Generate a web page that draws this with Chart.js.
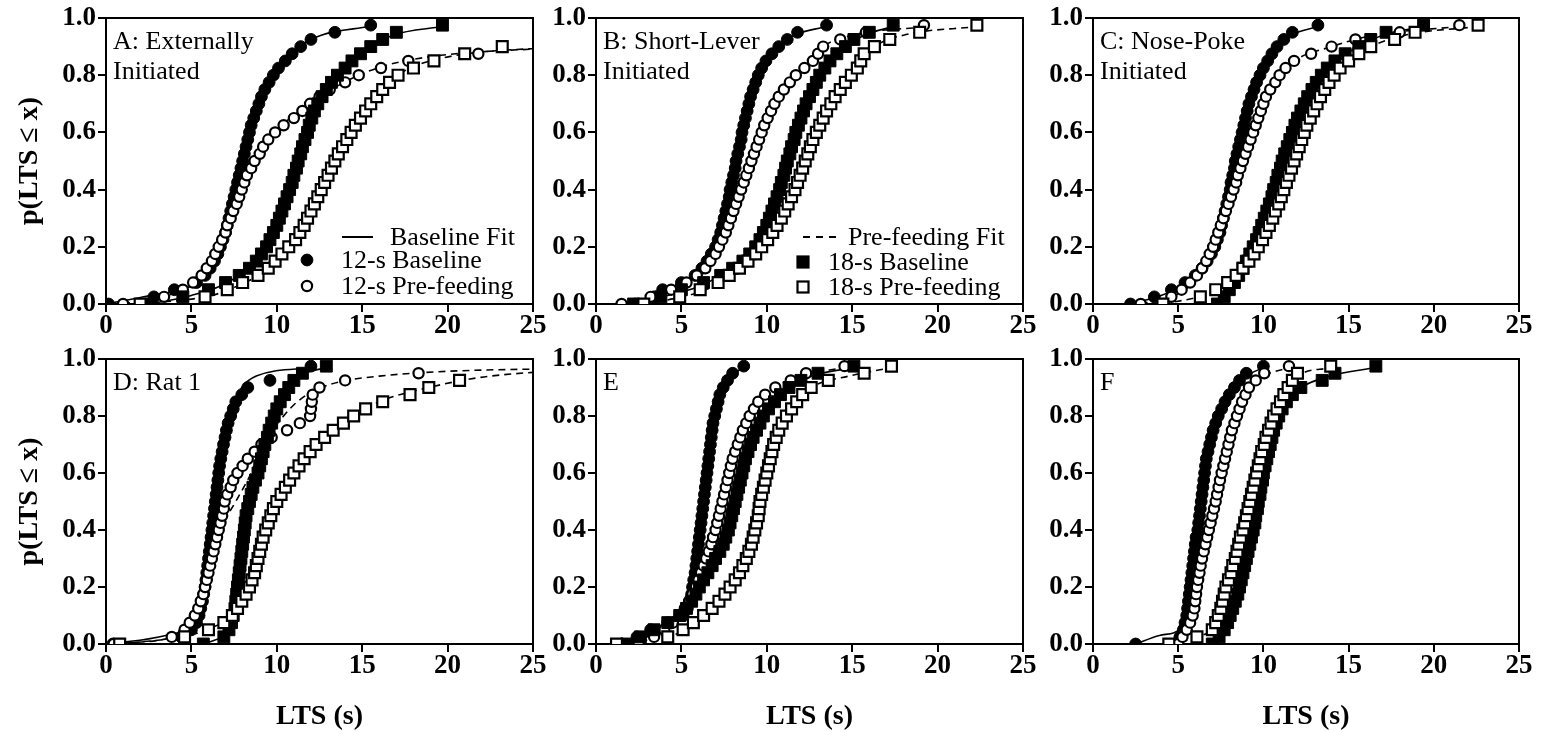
<!DOCTYPE html>
<html>
<head>
<meta charset="utf-8">
<script src="https://cdn.jsdelivr.net/npm/chart.js@4.4.1/dist/chart.umd.min.js"></script>
<style>
html, body { margin: 0; padding: 0; background: #fff; }
body { width: 1541px; height: 732px; position: relative; overflow: hidden; }
canvas { position: absolute; }
</style>
</head>
<body>
<canvas id="panelA"></canvas>
<canvas id="panelB"></canvas>
<canvas id="panelC"></canvas>
<canvas id="panelD"></canvas>
<canvas id="panelE"></canvas>
<canvas id="panelF"></canvas>
<script>
// cumulative probability of each ranked latency (40 trials per condition)
const P = [0, 0.025, 0.05, 0.075, 0.1, 0.125, 0.15, 0.175, 0.2, 0.225, 0.25, 0.275, 0.3, 0.325, 0.35, 0.375,
  0.4, 0.425, 0.45, 0.475, 0.5, 0.525, 0.55, 0.575, 0.6, 0.625, 0.65, 0.675, 0.7, 0.725, 0.75, 0.775,
  0.8, 0.825, 0.85, 0.875, 0.9, 0.925, 0.95, 0.975]
// probability levels the fitted curves are sampled at
const FP = [0, 0.03, 0.06, 0.1, 0.15, 0.2, 0.3, 0.4, 0.5, 0.6, 0.7, 0.8, 0.85, 0.9, 0.94, 0.97]

// A: externally initiated
const a12Base = [0.15, 2.8, 4.0, 5.3, 5.8, 6.1, 6.35, 6.55, 6.7, 6.85, 7.0, 7.1, 7.2, 7.3, 7.4, 7.5, 7.6, 7.7, 7.8, 7.9, 8.0, 8.1, 8.2, 8.3, 8.4, 8.5, 8.65, 8.8, 8.95, 9.1, 9.3, 9.55, 9.8, 10.1, 10.5, 10.9, 11.4, 12.0, 13.4, 15.5]
const a12Pre = [1.0, 3.4, 4.5, 5.1, 5.6, 5.9, 6.2, 6.4, 6.6, 6.8, 7.0, 7.1, 7.3, 7.45, 7.65, 7.8, 7.95, 8.1, 8.25, 8.5, 8.7, 9.0, 9.2, 9.5, 9.9, 10.4, 11.0, 11.5, 11.95, 12.5, 13.1, 14.0, 14.8, 16.1, 17.7, 21.8]
const a18Base = [2.6, 4.5, 6.0, 7.0, 7.8, 8.4, 8.8, 9.1, 9.4, 9.6, 9.8, 10.0, 10.15, 10.3, 10.45, 10.6, 10.75, 10.9, 11.0, 11.15, 11.25, 11.4, 11.5, 11.65, 11.8, 11.9, 12.05, 12.2, 12.4, 12.65, 12.9, 13.2, 13.55, 14.0, 14.4, 14.9, 15.5, 16.2, 17.0, 19.7]
const a18Pre = [2.0, 5.8, 7.1, 8.0, 8.9, 9.5, 9.9, 10.3, 10.7, 11.1, 11.35, 11.6, 11.8, 12.0, 12.2, 12.4, 12.6, 12.8, 13.0, 13.2, 13.4, 13.6, 13.85, 14.1, 14.35, 14.6, 14.9, 15.2, 15.5, 15.85, 16.2, 16.6, 17.1, 18.0, 19.2, 21.0, 23.2]
const aFit12Base = [0, 2.6, 4.9, 5.8, 6.35, 6.7, 7.2, 7.6, 8.0, 8.4, 8.95, 9.8, 10.4, 11.3, 12.6, 15.4]
const aFit12Pre = [1.0, 3.6, 4.8, 5.6, 6.2, 6.6, 7.3, 7.95, 8.7, 9.9, 11.9, 14.8, 17.5, 28, 40]
const aFit18Base = [2.6, 5.0, 6.6, 7.8, 8.8, 9.35, 10.15, 10.75, 11.25, 11.8, 12.4, 13.55, 14.4, 15.5, 16.8, 19.7]
const aFit18Pre = [2.0, 6.2, 7.6, 8.9, 9.9, 10.7, 11.8, 12.6, 13.4, 14.35, 15.5, 17.1, 19.0, 27, 38]

// B: short-lever initiated
const b12Base = [2.3, 3.4, 3.9, 5.0, 5.8, 6.2, 6.5, 6.75, 7.0, 7.15, 7.3, 7.4, 7.5, 7.6, 7.7, 7.8, 7.85, 7.95, 8.05, 8.15, 8.2, 8.3, 8.4, 8.5, 8.55, 8.65, 8.75, 8.85, 8.95, 9.05, 9.2, 9.35, 9.5, 9.7, 9.95, 10.3, 10.7, 11.2, 11.8, 13.5]
const b12Pre = [1.5, 3.2, 4.4, 5.3, 5.9, 6.4, 6.7, 7.0, 7.2, 7.4, 7.6, 7.75, 7.9, 8.05, 8.2, 8.35, 8.5, 8.65, 8.8, 8.95, 9.1, 9.25, 9.4, 9.55, 9.7, 9.85, 10.05, 10.25, 10.45, 10.7, 11.0, 11.35, 11.7, 12.2, 12.7, 13.0, 13.3, 14.3, 15.8, 19.2]
const b18Base = [2.2, 3.8, 5.0, 6.3, 7.3, 8.0, 8.6, 9.0, 9.35, 9.6, 9.8, 10.0, 10.15, 10.3, 10.45, 10.6, 10.75, 10.85, 11.0, 11.1, 11.2, 11.35, 11.45, 11.6, 11.7, 11.85, 12.0, 12.15, 12.3, 12.5, 12.7, 12.9, 13.1, 13.4, 13.7, 14.1, 14.6, 15.1, 16.0, 17.4]
const b18Pre = [2.8, 4.9, 6.1, 7.15, 7.8, 8.4, 8.9, 9.35, 9.7, 10.05, 10.35, 10.6, 10.85, 11.05, 11.25, 11.45, 11.65, 11.8, 11.95, 12.1, 12.25, 12.4, 12.55, 12.7, 12.9, 13.1, 13.3, 13.5, 13.75, 14.0, 14.3, 14.6, 14.95, 15.3, 15.5, 15.7, 16.3, 17.2, 18.95, 22.3]
const bFit12Base = [2.3, 3.6, 4.8, 5.8, 6.5, 7.0, 7.5, 7.85, 8.2, 8.55, 8.95, 9.5, 9.95, 10.7, 11.6, 13.5]
const bFit12Pre = [1.5, 3.4, 4.9, 5.9, 6.6, 7.15, 7.95, 8.5, 9.1, 9.7, 10.5, 11.7, 12.5, 13.3, 15.0, 19.5]
const bFit18Base = [2.2, 4.2, 6.0, 7.3, 8.6, 9.35, 10.15, 10.75, 11.2, 11.7, 12.3, 13.1, 13.7, 14.6, 15.7, 17.4]
const bFit18Pre = [2.8, 5.4, 6.8, 7.8, 8.9, 9.7, 10.85, 11.65, 12.25, 12.9, 13.75, 14.95, 15.5, 16.3, 18.0, 22.3]

// C: nose-poke initiated
const c12Base = [2.2, 3.6, 4.6, 5.4, 6.0, 6.4, 6.7, 6.95, 7.15, 7.3, 7.45, 7.55, 7.65, 7.75, 7.85, 7.95, 8.05, 8.1, 8.2, 8.3, 8.35, 8.45, 8.55, 8.65, 8.75, 8.85, 8.95, 9.05, 9.15, 9.3, 9.45, 9.6, 9.8, 10.0, 10.25, 10.5, 10.8, 11.2, 11.7, 13.2]
const c12Pre = [2.8, 4.6, 5.2, 5.7, 6.1, 6.4, 6.65, 6.85, 7.05, 7.2, 7.35, 7.5, 7.65, 7.8, 7.95, 8.1, 8.25, 8.4, 8.5, 8.65, 8.8, 8.95, 9.1, 9.25, 9.4, 9.55, 9.7, 9.85, 10.0, 10.15, 10.4, 10.7, 10.95, 11.3, 11.8, 12.8, 14.0, 15.4, 18.0, 21.5]
const c18Base = [7.3, 7.7, 8.0, 8.3, 8.55, 8.8, 9.0, 9.2, 9.4, 9.6, 9.75, 9.9, 10.05, 10.2, 10.35, 10.5, 10.6, 10.75, 10.85, 11.0, 11.1, 11.25, 11.4, 11.55, 11.7, 11.85, 12.0, 12.2, 12.4, 12.6, 12.85, 13.1, 13.4, 13.75, 14.2, 14.8, 15.6, 16.3, 17.2, 19.4]
const c18Pre = [4.1, 6.3, 7.2, 7.9, 8.4, 8.8, 9.15, 9.45, 9.7, 9.95, 10.15, 10.35, 10.55, 10.7, 10.9, 11.05, 11.2, 11.35, 11.5, 11.65, 11.8, 11.95, 12.1, 12.25, 12.4, 12.55, 12.75, 12.95, 13.15, 13.35, 13.6, 13.85, 14.15, 14.5, 15.0, 15.6, 16.3, 17.7, 18.9, 22.6]
const cFit12Base = [2.2, 4.0, 5.1, 6.0, 6.6, 7.15, 7.65, 8.05, 8.35, 8.75, 9.15, 9.8, 10.25, 10.8, 11.6, 13.2]
const cFit12Pre = [2.8, 4.8, 5.6, 6.1, 6.65, 7.05, 7.65, 8.25, 8.8, 9.4, 9.95, 10.95, 11.8, 14.0, 16.5, 21.5]
const cFit18Base = [7.3, 7.8, 8.2, 8.55, 9.0, 9.4, 10.05, 10.6, 11.1, 11.7, 12.4, 13.4, 14.2, 15.6, 17.0, 19.4]
const cFit18Pre = [4.1, 6.5, 7.6, 8.4, 9.15, 9.7, 10.55, 11.2, 11.8, 12.4, 13.15, 14.15, 15.0, 16.3, 18.3, 22.6]

// D: rat 1 (null = no trial shown at that rank)
const d12Base = [0.4, 4.4, 5.0, 5.3, 5.45, 5.55, 5.65, 5.72, 5.8, 5.85, 5.9, 5.95, 6.0, 6.05, 6.1, 6.15, 6.2, 6.25, 6.3, 6.35, 6.4, 6.45, 6.5, 6.55, 6.6, 6.65, 6.72, 6.8, 6.88, 6.97, 7.05, 7.15, 7.3, 7.45, 7.6, 7.95, 8.3, 9.6, null, 12.0]
const d12Pre = [0.45, 3.85, 4.6, 4.9, 5.2, 5.4, 5.55, 5.7, 5.8, 5.9, 6.0, 6.1, 6.2, 6.3, 6.4, 6.5, 6.6, 6.7, 6.8, 6.9, 6.95, 7.1, 7.3, 7.45, 7.7, 8.0, 8.3, 8.7, 9.1, 9.7, 10.6, 11.35, 11.95, 12.0, 12.05, 12.1, 12.5, 14.0, 18.3]
const d18Base = [5.7, 6.9, 7.2, 7.35, 7.45, 7.55, 7.6, 7.65, 7.7, 7.75, 7.8, 7.85, 7.9, 7.95, 8.0, 8.05, 8.1, 8.15, 8.2, 8.3, 8.4, 8.5, 8.6, 8.75, 8.9, 9.0, 9.1, 9.2, 9.3, 9.45, 9.55, 9.7, 9.85, 10.0, 10.2, 10.45, 10.7, 11.0, 11.5, 12.9]
const d18Pre = [0.8, 4.6, 6.0, 6.9, 7.4, 7.7, 7.95, 8.2, 8.4, 8.55, 8.7, 8.8, 8.9, 9.0, 9.1, 9.2, 9.35, 9.5, 9.65, 9.8, 10.0, 10.25, 10.5, 10.75, 11.0, 11.3, 11.6, 11.95, 12.3, 12.8, 13.3, 13.9, 14.5, 15.2, 16.2, 17.8, 18.9, 20.7]
const dFit12Base = [0.2, 3.5, 4.9, 5.4, 5.65, 5.8, 6.0, 6.2, 6.4, 6.6, 6.88, 7.3, 7.55, 7.95, 8.8, 12.2]
const dFit12Pre = [0.45, 4.2, 5.0, 5.3, 5.6, 5.85, 6.25, 6.7, 7.6, 8.5, 9.2, 10.4, 11.2, 12.6, 16.0, 30]
const dFit18Base = [5.7, 6.9, 7.3, 7.45, 7.6, 7.7, 7.9, 8.1, 8.4, 8.9, 9.3, 9.85, 10.2, 10.7, 11.3, 12.9]
const dFit18Pre = [0.8, 4.8, 6.3, 7.4, 8.1, 8.4, 8.9, 9.35, 10.0, 11.0, 12.3, 14.5, 16.0, 18.9, 22.5, 35]

// E
const e12Base = [1.5, 2.4, 3.2, 4.2, 5.1, 5.35, 5.5, 5.6, 5.65, 5.72, 5.8, 5.85, 5.9, 5.95, 6.0, 6.05, 6.1, 6.15, 6.2, 6.25, 6.3, 6.35, 6.4, 6.45, 6.5, 6.55, 6.6, 6.65, 6.7, 6.75, 6.8, 6.85, 6.95, 7.05, 7.15, 7.25, 7.45, 7.7, 8.0, 8.65]
const e12Pre = [2.5, 3.4, 4.0, 4.5, 4.9, 5.2, 5.45, 5.65, 5.85, 6.0, 6.15, 6.3, 6.45, 6.6, 6.75, 6.85, 7.0, 7.1, 7.2, 7.3, 7.4, 7.5, 7.6, 7.7, 7.8, 7.9, 8.0, 8.15, 8.3, 8.45, 8.6, 8.8, 9.0, 9.25, 9.5, 9.9, 10.5, 11.4, 12.3, 14.55]
const e18Base = [1.8, 2.6, 3.4, 4.2, 4.9, 5.3, 5.6, 5.85, 6.05, 6.3, 6.55, 6.8, 7.0, 7.25, 7.45, 7.6, 7.75, 7.85, 7.95, 8.05, 8.15, 8.25, 8.35, 8.45, 8.55, 8.65, 8.75, 8.9, 9.05, 9.2, 9.4, 9.6, 9.8, 10.1, 10.45, 10.8, 11.3, 12.0, 13.0, 15.1]
const e18Pre = [1.2, 4.2, 5.1, 5.7, 6.3, 6.8, 7.2, 7.55, 7.85, 8.15, 8.4, 8.6, 8.8, 8.95, 9.1, 9.2, 9.3, 9.4, 9.5, 9.55, 9.6, 9.7, 9.8, 9.9, 10.0, 10.1, 10.2, 10.3, 10.4, 10.55, 10.7, 10.9, 11.15, 11.45, 11.75, 12.1, 12.6, 13.6, 15.7, 17.3]
const eFit12Base = [1.5, 3.0, 4.4, 5.1, 5.45, 5.65, 5.9, 6.1, 6.3, 6.5, 6.7, 6.95, 7.15, 7.45, 7.9, 8.65]
const eFit12Pre = [2.5, 3.8, 4.5, 4.9, 5.5, 5.85, 6.45, 7.0, 7.4, 7.8, 8.3, 9.0, 9.5, 10.5, 12.0, 14.5]
const eFit18Base = [1.8, 3.2, 4.3, 4.9, 5.5, 6.05, 7.0, 7.75, 8.15, 8.55, 9.05, 9.8, 10.4, 11.3, 12.6, 15.1]
const eFit18Pre = [1.2, 4.4, 5.6, 6.3, 7.1, 7.85, 8.8, 9.3, 9.6, 10.0, 10.4, 11.15, 11.75, 12.6, 14.8, 17.3]

// F
const f12Base = [2.5, 5.1, 5.3, 5.4, 5.5, 5.55, 5.6, 5.65, 5.7, 5.75, 5.8, 5.85, 5.9, 5.95, 6.0, 6.05, 6.15, 6.2, 6.25, 6.3, 6.35, 6.4, 6.45, 6.5, 6.55, 6.6, 6.65, 6.75, 6.85, 6.95, 7.05, 7.2, 7.35, 7.55, 7.75, 8.0, 8.3, 8.6, 9.0, 10.0]
const f12Pre = [5.0, 5.25, 5.5, 5.7, 5.85, 5.95, 6.0, 6.05, 6.1, 6.17, 6.25, 6.32, 6.4, 6.5, 6.6, 6.7, 6.8, 6.9, 7.0, 7.1, 7.2, 7.28, 7.37, 7.45, 7.55, 7.65, 7.75, 7.85, 7.95, 8.05, 8.15, 8.3, 8.45, 8.6, 8.75, 8.95, 9.15, 9.55, 10.05, 11.5]
const f18Base = [7.0, 7.4, 7.7, 7.9, 8.05, 8.2, 8.35, 8.5, 8.6, 8.7, 8.8, 8.9, 9.0, 9.1, 9.2, 9.3, 9.4, 9.5, 9.55, 9.65, 9.7, 9.8, 9.85, 9.95, 10.0, 10.1, 10.2, 10.3, 10.4, 10.5, 10.6, 10.75, 10.9, 11.1, 11.35, 11.7, 12.2, 13.45, 14.2, 16.6]
const f18Pre = [4.45, 6.1, 7.0, 7.2, 7.35, 7.5, 7.6, 7.7, 7.8, 7.95, 8.1, 8.2, 8.35, 8.45, 8.55, 8.65, 8.8, 8.9, 9.0, 9.1, 9.2, 9.3, 9.4, 9.5, 9.6, 9.7, 9.8, 9.9, 10.05, 10.15, 10.3, 10.45, 10.6, 10.8, 11.0, 11.2, 11.45, 11.7, 12.0, 13.95]
const fFit12Base = [2.5, 3.9, 5.25, 5.5, 5.6, 5.7, 5.9, 6.15, 6.35, 6.55, 6.85, 7.35, 7.75, 8.3, 9.0, 10.0]
const fFit12Pre = [5.0, 5.4, 5.65, 5.85, 6.0, 6.1, 6.4, 6.8, 7.2, 7.55, 7.95, 8.45, 8.85, 9.15, 10.0, 11.5]
const fFit18Base = [7.0, 7.5, 7.8, 8.05, 8.35, 8.6, 9.0, 9.4, 9.7, 10.0, 10.4, 10.9, 11.3, 12.2, 13.9, 16.6]
const fFit18Pre = [4.45, 6.4, 7.1, 7.35, 7.65, 7.8, 8.35, 8.8, 9.2, 9.6, 10.05, 10.6, 11.0, 11.45, 12.0, 13.95]

const SERIF = '"Liberation Serif", "Times New Roman", serif'
Chart.defaults.font.family = SERIF
Chart.defaults.color = "#000"

let toPts = (xs, ps) => xs.map((x, i) => ({x: x, y: ps[i]})).filter(p => p.x !== null)

// marker look for 12-s baseline, 12-s pre-feeding, 18-s baseline, 18-s pre-feeding
let markers = [
    {pointStyle: "circle", pointRadius: 5.9, backgroundColor: "#000", borderWidth: 1},
    {pointStyle: "circle", pointRadius: 5.1, backgroundColor: "#fff", borderWidth: 2.2},
    {pointStyle: "rect", pointRadius: 8.4, backgroundColor: "#000", borderWidth: 1},
    {pointStyle: "rect", pointRadius: 7.7, backgroundColor: "#fff", borderWidth: 2.2}
]

// frame, panel letter and key, drawn over the plot
let panelDecor = {
    id: "panelDecor",
    afterDraw(chart, args, opts) {
        let ctx = chart.ctx
        let a = chart.chartArea
        ctx.save()
        ctx.strokeStyle = "#000"
        ctx.lineWidth = 2
        ctx.beginPath()
        ctx.moveTo(a.left, a.top)
        ctx.lineTo(a.right, a.top)
        ctx.lineTo(a.right, a.bottom)
        ctx.stroke()

        ctx.fillStyle = "#000"
        ctx.font = "26px " + SERIF
        ctx.textBaseline = "alphabetic"
        ;(opts.label || []).forEach((t, i) => ctx.fillText(t, a.left + 7, a.top + 31 + i * 30))

        ctx.textBaseline = "middle"
        ;(opts.key || []).forEach(k => {
            let x = a.left + k.mx
            let y = a.top + k.y
            ctx.lineWidth = 2
            if (k.kind === "line") {
                ctx.setLineDash(k.dash ? [7, 6] : [])
                ctx.beginPath()
                ctx.moveTo(a.left + k.mx, y)
                ctx.lineTo(a.left + k.mx2, y)
                ctx.stroke()
                ctx.setLineDash([])
            } else if (k.kind === "dot") {
                ctx.beginPath()
                ctx.lineWidth = k.filled ? 1 : 2.2
                ctx.arc(x, y, k.filled ? 5.9 : 5.1, 0, Math.PI * 2)
                ctx.fillStyle = k.filled ? "#000" : "#fff"
                ctx.fill()
                ctx.stroke()
            } else {
                ctx.lineWidth = 2.2
                ctx.fillStyle = k.filled ? "#000" : "#fff"
                ctx.fillRect(x - 5.5, y - 5.5, 11, 11)
                ctx.strokeRect(x - 5.5, y - 5.5, 11, 11)
            }
            ctx.fillStyle = "#000"
            ctx.fillText(k.text, a.left + k.tx, y + 1)
        })
        ctx.restore()
    }
}

let keyA = [
    {kind: "line", dash: false, mx: 236, mx2: 267, y: 219, tx: 284, text: "Baseline Fit"},
    {kind: "dot", filled: true, mx: 201, y: 242, tx: 235, text: "12-s Baseline"},
    {kind: "dot", filled: false, mx: 201, y: 268, tx: 235, text: "12-s Pre-feeding"}
]
let keyB = [
    {kind: "line", dash: true, mx: 207, mx2: 241, y: 219, tx: 252, text: "Pre-feeding Fit"},
    {kind: "box", filled: true, mx: 207, y: 244, tx: 232, text: "18-s Baseline"},
    {kind: "box", filled: false, mx: 207, y: 269, tx: 232, text: "18-s Pre-feeding"}
]

let panels = [
    {id: "panelA", left: 0, top: -2, w: 555, h: 352, yw: 106, xh: 46, label: ["A: Externally", "Initiated"], key: keyA,
        sets: [a12Base, a12Pre, a18Base, a18Pre], fits: [aFit12Base, aFit12Pre, aFit18Base, aFit18Pre]},
    {id: "panelB", left: 540, top: -2, w: 505, h: 352, yw: 56, xh: 46, label: ["B: Short-Lever", "Initiated"], key: keyB,
        sets: [b12Base, b12Pre, b18Base, b18Pre], fits: [bFit12Base, bFit12Pre, bFit18Base, bFit18Pre]},
    {id: "panelC", left: 1036, top: -2, w: 505, h: 352, yw: 57, xh: 46, label: ["C: Nose-Poke", "Initiated"], key: [],
        sets: [c12Base, c12Pre, c18Base, c18Pre], fits: [cFit12Base, cFit12Pre, cFit18Base, cFit18Pre]},
    {id: "panelD", left: 0, top: 339, w: 555, h: 395, yw: 106, xh: 90, label: ["D: Rat 1"], key: [],
        sets: [d12Base, d12Pre, d18Base, d18Pre], fits: [dFit12Base, dFit12Pre, dFit18Base, dFit18Pre]},
    {id: "panelE", left: 540, top: 339, w: 505, h: 395, yw: 56, xh: 90, label: ["E"], key: [],
        sets: [e12Base, e12Pre, e18Base, e18Pre], fits: [eFit12Base, eFit12Pre, eFit18Base, eFit18Pre]},
    {id: "panelF", left: 1036, top: 339, w: 505, h: 395, yw: 57, xh: 90, label: ["F"], key: [],
        sets: [f12Base, f12Pre, f18Base, f18Pre], fits: [fFit12Base, fFit12Pre, fFit18Base, fFit18Pre]}
]

let tickFont = {size: 27, weight: "bold"}
let titleFont = {size: 28, weight: "bold"}

let drawPanel = (p) => {
    let canvas = document.getElementById(p.id)
    canvas.width = p.w
    canvas.height = p.h
    canvas.style.left = p.left + "px"
    canvas.style.top = p.top + "px"

    let datasets = []
    p.fits.forEach((xs, i) => {
        datasets.push({
            data: toPts(xs, FP),
            showLine: true,
            pointRadius: 0,
            borderColor: "#000",
            borderWidth: 1.6,
            borderDash: i % 2 === 1 ? [7, 5] : [],
            cubicInterpolationMode: "monotone",
            order: 10
        })
    })
    p.sets.forEach((xs, i) => {
        datasets.push(Object.assign({
            data: toPts(xs, P),
            showLine: false,
            borderColor: "#000",
            order: 4 - i
        }, markers[i]))
    })

    let leftCol = p.left === 0
    let bottomRow = p.top > 0

    new Chart(canvas, {
        type: "scatter",
        data: {datasets: datasets},
        options: {
            responsive: false,
            animation: false,
            events: [],
            layout: {padding: {top: 20, right: 22, left: 0, bottom: 0}},
            plugins: {
                legend: {display: false},
                tooltip: {enabled: false},
                panelDecor: {label: p.label, key: p.key}
            },
            scales: {
                x: {
                    type: "linear", min: 0, max: 25,
                    ticks: {stepSize: 5, font: tickFont, color: "#000", padding: -2, maxRotation: 0},
                    grid: {drawOnChartArea: false, tickLength: 8, color: "#000", lineWidth: 2},
                    border: {color: "#000", width: 2},
                    title: {display: bottomRow, text: "LTS (s)", font: titleFont, color: "#000", padding: 0},
                    afterFit: s => { s.height = p.xh }
                },
                y: {
                    type: "linear", min: 0, max: 1,
                    ticks: {stepSize: 0.2, font: tickFont, color: "#000", padding: 2, callback: v => v.toFixed(1)},
                    grid: {drawOnChartArea: false, tickLength: 8, color: "#000", lineWidth: 2},
                    border: {color: "#000", width: 2},
                    title: {display: leftCol, text: "p(LTS ≤ x)", font: titleFont, color: "#000", padding: {top: 13, bottom: 0}},
                    afterFit: s => { s.width = p.yw }
                }
            }
        },
        plugins: [panelDecor]
    })
}

panels.forEach(drawPanel)
</script>
</body>
</html>
